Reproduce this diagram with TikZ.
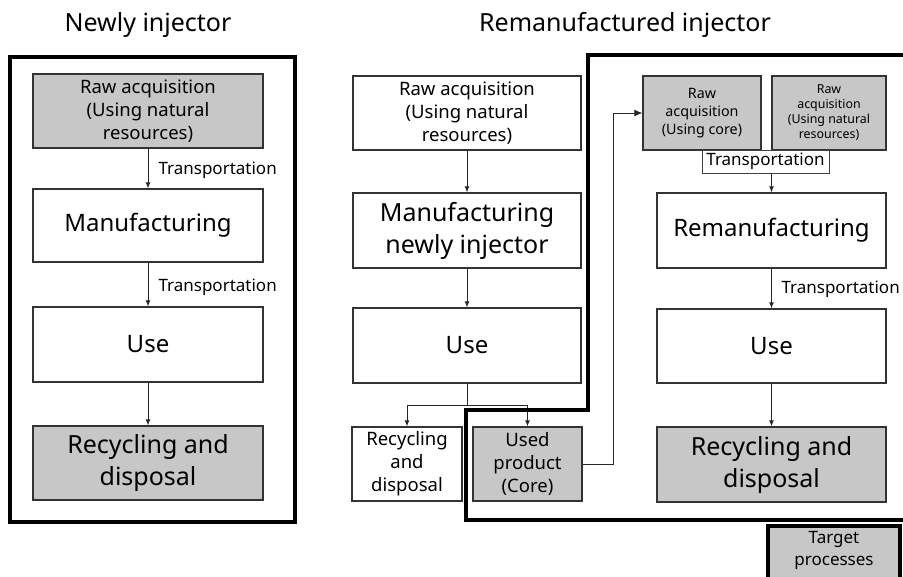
\documentclass[tikz,border=0pt]{standalone}
\usepackage{fontspec}
\setmainfont{Noto Sans}
\usetikzlibrary{arrows.meta}
\usetikzlibrary{positioning}

\begin{document}
\begin{tikzpicture}[x=1pt, y=-1pt,
        box/.style={draw=black!80, line width=1.3pt, fill=white, inner sep=0pt, align=center},
        graybox/.style={box, fill=black!22},
        frame/.style={line width=3.5pt, black, line join=miter},
        link/.style={draw=black!85, line width=0.9pt},
        flow/.style={link, -{Latex[length=6pt, width=5pt]}},
        huge/.style={font=\fontsize{25}{32}\selectfont},
        big/.style={font=\fontsize{24}{30}\selectfont},
        mid/.style={font=\fontsize{18.5}{23}\selectfont},
        small/.style={font=\fontsize{17}{22}\selectfont},
        tiny/.style={font=\fontsize{14.3}{18}\selectfont},
        wee/.style={font=\fontsize{12.4}{15}\selectfont}]
        \useasboundingbox (0,0) rectangle (903,577);

        % titles
        \node[font=\fontsize{25}{30}\selectfont] (titleL) at (148,25) {Newly injector};
        \node[font=\fontsize{25}{30}\selectfont] (titleR) at (625,25) {Remanufactured injector};

        % newly injector
        \draw[frame] (10,57) rectangle (295,522);
        \node[graybox, mid, minimum width=230pt, minimum height=74pt] (rawL) at (148,111) {Raw acquisition\\(Using natural\\resources)};
        \node[box, big, minimum width=230pt, minimum height=73pt] (manL) at (148,225.5) {Manufacturing};
        \node[box, big, minimum width=230pt, minimum height=75pt] (useL) at (148,344.5) {Use};
        \node[graybox, huge, minimum width=230pt, minimum height=74pt] (recL) at (148,463) {Recycling and\\disposal};
        \draw[flow] (rawL) -- (manL);
        \draw[flow] (manL) -- (useL);
        \draw[flow] (useL) -- (recL);
        \node[small, anchor=west] (transL1) at (155,170) {Transportation};
        \node[small, anchor=west] (transL2) at (155,287) {Transportation};

        % remanufactured injector, first life
        \node[box, mid, minimum width=228pt, minimum height=74pt] (rawM) at (467,113) {Raw acquisition\\(Using natural\\resources)};
        \node[box, huge, minimum width=228pt, minimum height=75pt] (manM) at (467,230.5) {Manufacturing\\newly injector};
        \node[box, big, minimum width=228pt, minimum height=75pt] (useM) at (467,345.5) {Use};
        \node[box, mid, minimum width=110pt, minimum height=74pt] (recM) at (407,464) {Recycling\\and\\disposal};
        \node[graybox, mid, minimum width=109pt, minimum height=74pt] (usedM) at (527.5,464) {Used\\product\\(Core)};
        \draw[flow] (rawM) -- (manM);
        \draw[flow] (manM) -- (useM);
        \coordinate (split) at (467,405);
        \draw[link] (useM.south) -- (split);
        \draw[flow] (split) -| (recM.north);
        \draw[flow] (split) -| (usedM.north);

        % remanufactured injector, second life
        \draw[frame] (910,55) -- (588,55) -- (588,410) -- (466,410) -- (466,520) -- (910,520);
        \node[graybox, tiny, minimum width=118pt, minimum height=74pt] (coreR) at (702,113) {Raw\\acquisition\\(Using core)};
        \node[graybox, wee, minimum width=114pt, minimum height=74pt] (natR) at (829,113) {Raw\\acquisition\\(Using natural\\resources)};
        \node[draw=black!75, line width=0.8pt, small, inner sep=0pt, minimum width=127pt, minimum height=23pt] (transR1) at (765.5,161.5) {Transportation};
        \node[box, big, minimum width=229pt, minimum height=75pt] (remR) at (771.5,230.5) {Remanufacturing};
        \node[box, big, minimum width=229pt, minimum height=74pt] (useR) at (771.5,346) {Use};
        \node[graybox, huge, minimum width=229pt, minimum height=75pt] (recR) at (771.5,464.5) {Recycling and\\disposal};
        \draw[flow] (transR1.south -| remR.north) -- (remR.north);
        \draw[flow] (remR) -- (useR);
        \draw[flow] (useR) -- (recR);
        \node[small, anchor=west] (transR2) at (778,289) {Transportation};
        \draw[link, -{Latex[length=8pt, width=7pt]}] (usedM.east) -- ++(31,0) |- (coreR.west);

        % legend
        \node[graybox, line width=3.5pt, draw=black, minimum width=132pt, minimum height=62pt] (target) at (834,557) {};
        \node[small, align=center, anchor=north] (targettxt) at (834,528) {Target\\processes};
    \end{tikzpicture}
\end{document}
